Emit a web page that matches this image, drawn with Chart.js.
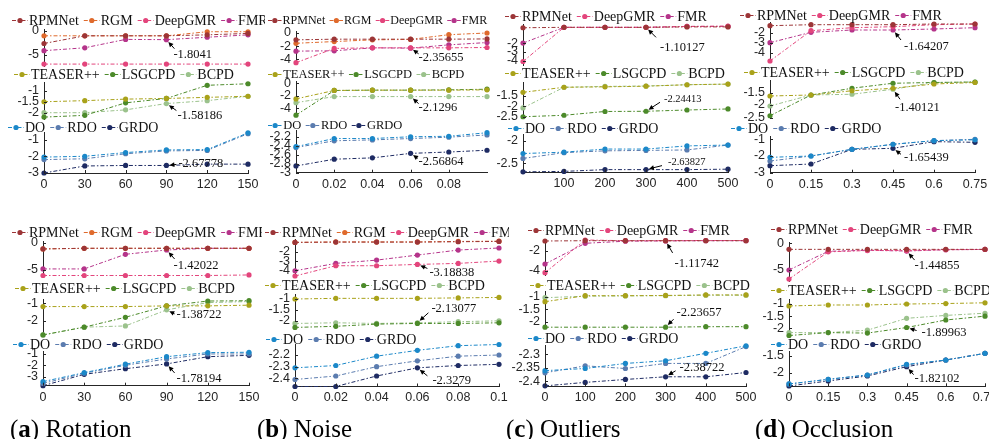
<!DOCTYPE html>
<html><head><meta charset="utf-8">
<script src="https://cdn.jsdelivr.net/npm/chart.js@4.4.0/dist/chart.umd.min.js"></script>
<style>
html,body{margin:0;padding:0;background:#fff;}
#wrap{position:relative;width:989px;height:439px;overflow:hidden;background:#fff;}
canvas{position:absolute;}
.cap{position:absolute;top:416px;font-family:"Liberation Serif",serif;font-size:25px;line-height:25px;color:#000;white-space:nowrap;}
.cap b{font-weight:bold;}
</style></head><body><div id="wrap"></div>
<script>
// ---------- categories (x values) ----------
const rotX   = [0, 30, 60, 90, 120, 150];
const noiseX = [0, 0.02, 0.04, 0.06, 0.08, 0.1];
const outX   = [0, 100, 200, 300, 400, 500];
const occX   = [0, 0.15, 0.3, 0.45, 0.6, 0.75];

// ---------- series names ----------
const learn4 = ['RPMNet', 'RGM', 'DeepGMR', 'FMR'];
const learn3 = ['RPMNet', 'DeepGMR', 'FMR'];
const classic = ['TEASER++', 'LSGCPD', 'BCPD'];
const ours = ['DO', 'RDO', 'GRDO'];

// ---------- tick labels ----------
const rotXTicks = [0, 30, 60, 90, 120, 150];
const rotXLabels = ['0', '30', '60', '90', '120', '150'];
const noiseXTicks1 = [0, 0.02, 0.04, 0.06, 0.08];
const noiseXLabels1 = ['0', '0.02', '0.04', '0.06', '0.08'];
const noiseXTicks2 = [0, 0.02, 0.04, 0.06, 0.08, 0.1];
const noiseXLabels2 = ['0', '0.02', '0.04', '0.06', '0.08', '0.1'];
const outXTicks1 = [100, 200, 300, 400, 500];
const outXLabels1 = ['100', '200', '300', '400', '500'];
const outXTicks2 = [0, 100, 200, 300, 400, 500];
const outXLabels2 = ['0', '100', '200', '300', '400', '500'];
const occXTicks = [0, 0.15, 0.3, 0.45, 0.6, 0.75];
const occXLabels = ['0', '0.15', '0.3', '0.45', '0.6', '0.75'];

const yt_a1 = [[0, -5], [-1, -1.5, -2], [-1, -2, -3]];
const yt_b1 = [[0, -2, -4], [0, -2, -4], [-2.2, -2.4, -2.6, -2.8, -3]];
const yt_c1 = [[-2, -3, -4], [-1.5, -2, -2.5], [-2, -2.5]];
const yt_d1 = [[-2, -3, -4], [-1.5, -2, -2.5], [-1, -2, -3]];
const yt_a2 = [[0, -5], [-1, -2], [-1, -2, -3]];
const yt_b2 = [[-2, -3, -4], [-1, -1.5, -2], [-2.2, -2.3, -2.4]];
const yt_c2 = [[-2, -4], [-1, -1.5, -2], [-2.3, -2.35, -2.4]];
const yt_d2 = [[0, -5], [-1, -1.5, -2], [-1.5, -2]];

// ---------- annotation labels ----------
const ann_a1 = ['-1.8041', '-1.58186', '-2.67778'];
const ann_b1 = ['-2.35655', '-2.1296', '-2.56864'];
const ann_c1 = ['-1.10127', '-2.24413', '-2.63827'];
const ann_d1 = ['-1.64207', '-1.40121', '-1.65439'];
const ann_a2 = ['-1.42022', '-1.38722', '-1.78194'];
const ann_b2 = ['-3.18838', '-2.13077', '-2.3279'];
const ann_c2 = ['-1.11742', '-2.23657', '-2.38722'];
const ann_d2 = ['-1.44855', '-1.89963', '-1.82102'];

// ---------- (a) Rotation, top ----------
const a1_RPMNet  = [-2.6, -1.0, -1.0, -1.0, -0.8, -0.5];
const a1_RGM     = [-1.0, -1.0, -1.0, -1.0, -0.15, -0.15];
const a1_DeepGMR = [-6.9, -6.9, -6.9, -6.9, -6.9, -6.9];
const a1_FMR     = [-4.1, -3.5, -1.75, -1.8041, -1.3, -0.8];
const a1_TEASER  = [-1.5, -1.45, -1.38, -1.35, -1.3, -1.25];
const a1_LSGCPD  = [-2.2, -2.12, -1.55, -1.35, -0.75, -0.68];
const a1_BCPD    = [-2.0, -2.0, -1.87, -1.58186, -1.45, -1.25];
const a1_DO      = [-2.05, -2.0, -1.78, -1.62, -1.6, -0.6];
const a1_RDO     = [-2.2, -2.15, -1.85, -1.68, -1.65, -0.65];
const a1_GRDO    = [-3.0, -2.58, -2.55, -2.55, -2.47, -2.47];
// ---------- (b) Noise, top ----------
const b1_RPMNet  = [-1.04, -0.94, -0.94, -0.94, -0.94, -0.9];
const b1_RGM     = [-1.56, -1.3, -1.04, -0.98, -0.26, 0.0];
const b1_DeepGMR = [-4.5, -2.34, -2.25, -2.25, -2.25, -2.2];
const b1_FMR     = [-2.75, -2.7, -2.25, -2.3, -1.8, -1.45];
const b1_TEASER  = [-2.5, -1.15, -1.1, -1.1, -1.1, -1.05];
const b1_LSGCPD  = [-5.1, -1.15, -1.1, -1.1, -1.05, -0.95];
const b1_BCPD    = [-3.1, -2.13, -2.13, -2.13, -2.13, -2.13];
const b1_DO      = [-2.42, -2.24, -2.24, -2.2, -2.19, -2.11];
const b1_RDO     = [-2.44, -2.29, -2.27, -2.24, -2.21, -2.16];
const b1_GRDO    = [-2.85, -2.7, -2.67, -2.57, -2.54, -2.5];
// ---------- (c) Outliers, top ----------
const c1_RPMNet  = [-0.25, -0.2, -0.2, -0.2, -0.15, -0.15];
const c1_DeepGMR = [-4.1, -0.2, -0.2, -0.2, -0.1, -0.05];
const c1_FMR     = [-2.0, -0.2, -0.2, -0.2, -0.1, -0.1];
const c1_TEASER  = [-1.34, -1.1, -1.08, -1.05, -0.98, -0.95];
const c1_LSGCPD  = [-2.5, -2.43, -2.25, -2.24, -2.18, -2.13];
const c1_BCPD    = [-2.08, -1.1, -1.06, -1.04, -0.98, -0.95];
const c1_DO      = [-2.28, -2.25, -2.18, -2.18, -2.11, -2.09];
const c1_RDO     = [-2.39, -2.26, -2.22, -2.21, -2.2, -2.09];
const c1_GRDO    = [-2.69, -2.68, -2.64, -2.64, -2.64, -2.63];
// ---------- (d) Occlusion, top ----------
const d1_RPMNet  = [-1.3, -1.2, -1.2, -1.2, -1.13, -1.13];
const d1_DeepGMR = [-4.83, -1.8, -1.5, -1.4, -1.2, -1.13];
const d1_FMR     = [-3.0, -1.96, -1.73, -1.73, -1.63, -1.5];
const d1_TEASER  = [-1.64, -1.6, -1.43, -1.33, -1.16, -1.1];
const d1_LSGCPD  = [-2.43, -1.6, -1.33, -1.13, -1.1, -1.08];
const d1_BCPD    = [-2.04, -1.6, -1.57, -1.37, -1.1, -1.08];
const d1_DO      = [-2.08, -2.0, -1.6, -1.3, -1.08, -1.03];
const d1_RDO     = [-2.3, -2.0, -1.6, -1.3, -1.08, -1.0];
const d1_GRDO    = [-2.58, -2.48, -1.6, -1.54, -1.14, -1.18];
// ---------- (a) Rotation, bottom ----------
const a2_RPMNet  = [-1.15, -1.03, -1.03, -1.03, -1.03, -1.03];
const a2_RGM     = [-1.15, -1.03, -1.03, -1.03, -1.03, -1.03];
const a2_DeepGMR = [-6.0, -6.0, -6.0, -6.0, -6.0, -5.9];
const a2_FMR     = [-4.8, -4.8, -2.13, -1.34, -1.03, -1.03];
const a2_TEASER  = [-1.19, -1.19, -1.19, -1.15, -1.15, -1.11];
const a2_LSGCPD  = [-2.83, -2.38, -1.81, -1.15, -0.87, -0.85];
const a2_BCPD    = [-2.83, -2.38, -2.31, -1.38, -0.96, -0.9];
const a2_DO      = [-3.44, -2.65, -1.9, -1.24, -0.88, -0.85];
const a2_RDO     = [-3.6, -2.7, -2.0, -1.44, -1.0, -1.0];
const a2_GRDO    = [-3.8, -2.8, -2.3, -1.88, -1.24, -1.12];
// ---------- (b) Noise, bottom ----------
const b2_RPMNet  = [-1.0, -0.97, -0.97, -0.97, -0.93, -0.9];
const b2_RGM     = [-1.0, -0.95, -0.95, -0.95, -0.9, -0.87];
const b2_DeepGMR = [-4.6, -3.5, -3.5, -3.36, -3.25, -3.0];
const b2_FMR     = [-4.04, -3.25, -2.9, -2.36, -1.82, -1.6];
const b2_TEASER  = [-1.0, -0.97, -0.97, -0.97, -0.95, -0.93];
const b2_LSGCPD  = [-2.29, -2.24, -2.14, -2.11, -2.11, -2.08];
const b2_BCPD    = [-2.11, -2.08, -2.11, -2.08, -2.03, -1.99];
const b2_DO      = [-2.31, -2.29, -2.21, -2.16, -2.12, -2.11];
const b2_RDO     = [-2.41, -2.38, -2.3, -2.25, -2.21, -2.2];
const b2_GRDO    = [-2.47, -2.47, -2.38, -2.31, -2.29, -2.28];
// ---------- (c) Outliers, bottom ----------
const c2_RPMNet  = [-1.03, -1.0, -1.0, -1.0, -1.0, -1.0];
const c2_DeepGMR = [-4.2, -0.93, -1.0, -1.0, -0.98, -0.98];
const c2_FMR     = [-3.33, -1.26, -1.05, -1.02, -1.0, -1.0];
const c2_TEASER  = [-1.2, -0.96, -0.96, -0.95, -0.93, -0.93];
const c2_LSGCPD  = [-2.22, -2.22, -2.22, -2.22, -2.2, -2.2];
const c2_BCPD    = [-1.04, -0.98, -0.97, -0.96, -0.94, -0.94];
const c2_DO      = [-2.361, -2.353, -2.334, -2.324, -2.296, -2.268];
const c2_RDO     = [-2.369, -2.343, -2.353, -2.334, -2.334, -2.271];
const c2_GRDO    = [-2.418, -2.405, -2.394, -2.384, -2.384, -2.368];
// ---------- (d) Occlusion, bottom ----------
const d2_RPMNet  = [-1.13, -1.13, -1.13, -1.13, -1.13, -1.13];
const d2_DeepGMR = [-6.7, -1.6, -1.35, -1.35, -1.2, -1.15];
const d2_FMR     = [-5.0, -1.5, -1.3, -1.45, -1.2, -1.15];
const d2_TEASER  = [-1.08, -1.04, -1.04, -1.0, -0.98, -0.95];
const d2_LSGCPD  = [-2.3, -2.18, -2.2, -1.97, -1.66, -1.5];
const d2_BCPD    = [-2.18, -2.18, -2.08, -1.59, -1.47, -1.38];
const d2_DO      = [-2.34, -2.2, -2.07, -1.75, -1.62, -1.42];
const d2_RDO     = [-2.34, -2.2, -2.07, -1.77, -1.62, -1.42];
const d2_GRDO    = [-2.4, -2.25, -2.1, -1.82, -1.62, -1.42];

// ---------- styling ----------
const COLORS = {
  'RPMNet': '#9c3537', 'RGM': '#df6a2c', 'DeepGMR': '#e3457c', 'FMR': '#b5348a',
  'TEASER++': '#a9a21a', 'LSGCPD': '#4c8a2a', 'BCPD': '#9bc28c',
  'DO': '#1b88c9', 'RDO': '#5b7caf', 'GRDO': '#1e2b63'
};
const DASH = [4, 2, 1.5, 2];
const TICK_FONT = { family: '"Liberation Sans", Arial, sans-serif', size: 12.5 };
const SERIF = '"Liberation Serif", "Times New Roman", serif';

// layout of each sub-plot (page pixels)
const subs = [
  // row 1 (a)
  {L:0,R:265,ax:44,xe:248,ly:20,lx:12,top:29.1,bot:66,ymin:-7.3,ymax:0.4,yt:yt_a1[0],xs:rotX,xmax:150,names:learn4,ser:[a1_RPMNet,a1_RGM,a1_DeepGMR,a1_FMR],ann:[3,3,ann_a1[0],7,15,8,9]},
  {L:0,R:265,ax:44,xe:248,ly:74,lx:14,top:82,bot:119.3,ymin:-2.3,ymax:-0.6,yt:yt_a1[1],xs:rotX,xmax:150,names:classic,ser:[a1_TEASER,a1_LSGCPD,a1_BCPD],ann:[2,3,ann_a1[1],11,12,10,7]},
  {L:0,R:265,ax:44,xe:248,ly:127,lx:8,top:132,bot:173,ymin:-3.0,ymax:-0.55,yt:yt_a1[2],xs:rotX,xmax:150,names:ours,ser:[a1_DO,a1_RDO,a1_GRDO],xt:rotXTicks,xl:rotXLabels,ann:[2,3,ann_a1[2],12,-2,10,-1]},
  // row 1 (b)
  {L:265,R:497,ax:296,xe:487,ly:20,lx:268,lf:12,top:31,bot:64,ymin:-4.7,ymax:0.3,yt:yt_b1[0],xs:noiseX,xmax:0.1,names:learn4,ser:[b1_RPMNet,b1_RGM,b1_DeepGMR,b1_FMR],ann:[2,3,ann_b1[0],8,10,8,6]},
  {L:265,R:497,ax:296,xe:487,ly:74,lx:268,lf:12.5,top:81.4,bot:116.4,ymin:-5.3,ymax:0.3,yt:yt_b1[1],xs:noiseX,xmax:0.1,names:classic,ser:[b1_TEASER,b1_LSGCPD,b1_BCPD],ann:[2,3,ann_b1[1],8,11,8,7]},
  {L:265,R:497,ax:296,xe:487,ly:125,lx:268,lf:12.5,top:130.9,bot:172.7,ymin:-3.0,ymax:-2.07,yt:yt_b1[2],xs:noiseX,xmax:0.1,names:ours,ser:[b1_DO,b1_RDO,b1_GRDO],xt:noiseXTicks1,xl:noiseXLabels1,ann:[2,3,ann_b1[2],8,8,7,5]},
  // row 1 (c)
  {L:497,R:740,ax:523,xe:728,ly:16,lx:505,top:24.7,bot:65,ymin:-4.5,ymax:0.1,yt:yt_c1[0],xs:outX,xmax:500,names:learn3,ser:[c1_RPMNet,c1_DeepGMR,c1_FMR],ann:[2,3,ann_c1[0],14,20,10,10]},
  {L:497,R:740,ax:523,xe:728,ly:73,lx:505,top:82,bot:117.8,ymin:-2.55,ymax:-0.85,yt:yt_c1[1],xs:outX,xmax:500,names:classic,ser:[c1_TEASER,c1_LSGCPD,c1_BCPD],ann:[1,3,ann_c1[1],18,-12,14,-9,10.5]},
  {L:497,R:740,ax:523,xe:728,ly:128,lx:508,top:134.3,bot:172.3,ymin:-2.7,ymax:-1.85,yt:yt_c1[2],xs:outX,xmax:500,names:ours,ser:[c1_DO,c1_RDO,c1_GRDO],xt:outXTicks1,xl:outXLabels1,ann:[2,3,ann_c1[2],22,-7,16,-4,10.5]},
  // row 1 (d)
  {L:728,R:989,ax:770,xe:975,ly:15,lx:740,top:22.7,bot:62.7,ymin:-5.0,ymax:-1.0,yt:yt_d1[0],xs:occX,xmax:0.75,names:learn3,ser:[d1_RPMNet,d1_DeepGMR,d1_FMR],ann:[2,3,ann_d1[0],11,17,8,10]},
  {L:728,R:989,ax:770,xe:975,ly:72,lx:744,top:80,bot:117.5,ymin:-2.5,ymax:-1.0,yt:yt_d1[1],xs:occX,xmax:0.75,names:classic,ser:[d1_TEASER,d1_LSGCPD,d1_BCPD],ann:[2,3,ann_d1[1],2,18,7,10]},
  {L:728,R:989,ax:770,xe:975,ly:128,lx:731,top:136.8,bot:172.7,ymin:-3.0,ymax:-0.85,yt:yt_d1[2],xs:occX,xmax:0.75,names:ours,ser:[d1_DO,d1_RDO,d1_GRDO],xt:occXTicks,xl:occXLabels,ann:[2,3,ann_d1[2],11,9,8,6]},
  // row 2 (a)
  {L:0,R:262,ax:43,xe:249,ly:232,lx:12,top:241,bot:276.6,ymin:-6.2,ymax:0.3,yt:yt_a2[0],xs:rotX,xmax:150,names:learn4,ser:[a2_RPMNet,a2_RGM,a2_DeepGMR,a2_FMR],ann:[3,3,ann_a2[0],7,16,8,9]},
  {L:0,R:262,ax:43,xe:249,ly:288,lx:15,top:299.3,bot:336.5,ymin:-2.92,ymax:-0.77,yt:yt_a2[1],xs:rotX,xmax:150,names:classic,ser:[a2_TEASER,a2_LSGCPD,a2_BCPD],ann:[2,3,ann_a2[1],10,5,8,4]},
  {L:0,R:262,ax:43,xe:249,ly:344,lx:13,top:351.7,bot:385.7,ymin:-3.8,ymax:-0.8,yt:yt_a2[2],xs:rotX,xmax:150,names:ours,ser:[a2_DO,a2_RDO,a2_GRDO],xt:rotXTicks,xl:rotXLabels,ann:[2,3,ann_a2[2],10,15,8,9]},
  // row 2 (b)
  {L:262,R:509,ax:295,xe:499,ly:232,lx:265,top:239.3,bot:277.4,ymin:-4.75,ymax:-0.67,yt:yt_b2[0],xs:noiseX,xmax:0.1,names:learn4,ser:[b2_RPMNet,b2_RGM,b2_DeepGMR,b2_FMR],ann:[2,3,ann_b2[0],12,8,10,4]},
  {L:262,R:509,ax:295,xe:499,ly:285,lx:265,top:294.6,bot:328.3,ymin:-2.33,ymax:-0.8,yt:yt_b2[1],xs:noiseX,xmax:0.1,names:classic,ser:[b2_TEASER,b2_LSGCPD,b2_BCPD],ann:[2,3,ann_b2[1],14,-14,11,-10]},
  {L:262,R:509,ax:295,xe:499,ly:339,lx:266,top:344.5,bot:386.5,ymin:-2.47,ymax:-2.11,yt:yt_b2[2],xs:noiseX,xmax:0.1,names:ours,ser:[b2_DO,b2_RDO,b2_GRDO],xt:noiseXTicks2,xl:noiseXLabels2,ann:[2,3,ann_b2[2],15,13,10,8]},
  // row 2 (c)
  {L:507,R:770,ax:545,xe:746,ly:230,lx:528,top:239.3,bot:275,ymin:-4.43,ymax:-0.86,yt:yt_c2[0],xs:outX,xmax:500,names:learn3,ser:[c2_RPMNet,c2_DeepGMR,c2_FMR],ann:[2,3,ann_c2[0],9,23,7,12]},
  {L:507,R:770,ax:545,xe:746,ly:285,lx:530,top:291.7,bot:328.7,ymin:-2.28,ymax:-0.8,yt:yt_c2[1],xs:outX,xmax:500,names:classic,ser:[c2_TEASER,c2_LSGCPD,c2_BCPD],ann:[1,3,ann_c2[1],11,-14,8,-8]},
  {L:507,R:770,ax:545,xe:746,ly:338,lx:528,top:345,bot:386.4,ymin:-2.42,ymax:-2.265,yt:yt_c2[2],xs:outX,xmax:500,names:ours,ser:[c2_DO,c2_RDO,c2_GRDO],xt:outXTicks2,xl:outXLabels2,ann:[2,3,ann_c2[2],14,-9,10,-6]},
  // row 2 (d)
  {L:740,R:989,ax:789,xe:987,ly:229,lx:771,top:242.8,bot:281.7,ymin:-7.2,ymax:0.1,yt:yt_d2[0],xs:occX,xmax:0.75,names:learn3,ser:[d2_RPMNet,d2_DeepGMR,d2_FMR],ann:[2,3,ann_d2[0],8,15,8,9]},
  {L:740,R:989,ax:789,xe:987,ly:290,lx:771,top:299.9,bot:336,ymin:-2.32,ymax:-0.83,yt:yt_d2[1],xs:occX,xmax:0.75,names:classic,ser:[d2_TEASER,d2_LSGCPD,d2_BCPD],ann:[1,3,ann_d2[1],15,5,10,3]},
  {L:740,R:989,ax:789,xe:987,ly:344,lx:771,top:351.7,bot:386.3,ymin:-2.41,ymax:-1.37,yt:yt_d2[2],xs:occX,xmax:0.75,names:ours,ser:[d2_DO,d2_RDO,d2_GRDO],xt:occXTicks,xl:occXLabels,ann:[2,3,ann_d2[2],8,12,7,8]}
];

const deco = {
  id: 'deco',
  afterDraw(chart, args, o) {
    const s = o.spec, ctx = chart.ctx, ca = chart.chartArea;
    const ys = chart.scales.y, xs = chart.scales.x;
    ctx.save();
    // inward tick marks
    ctx.strokeStyle = '#262626'; ctx.lineWidth = 1; ctx.setLineDash([]);
    s.yt.forEach(v => {
      const py = Math.round(ys.getPixelForValue(v)) + 0.5;
      ctx.beginPath(); ctx.moveTo(ca.left, py); ctx.lineTo(ca.left + 3, py); ctx.stroke();
    });
    if (s.xt) {
      s.xt.forEach(v => {
        const px = Math.round(xs.getPixelForValue(v)) + 0.5;
        ctx.beginPath(); ctx.moveTo(px, ca.bottom); ctx.lineTo(px, ca.bottom - 3); ctx.stroke();
      });
    }
    // legend
    const fs = s.lf || 14;
    const k = fs / 14;
    ctx.font = fs + 'px ' + SERIF; ctx.textBaseline = 'middle'; ctx.textAlign = 'left';
    let x = s.lx - s.L; const y = s.ly - s.T;
    chart.data.datasets.forEach(ds => {
      ctx.strokeStyle = ds.borderColor; ctx.fillStyle = ds.borderColor; ctx.lineWidth = 1;
      ctx.setLineDash(DASH);
      ctx.beginPath(); ctx.moveTo(x, y + 0.5); ctx.lineTo(x + 16 * k, y + 0.5); ctx.stroke();
      ctx.setLineDash([]);
      ctx.beginPath(); ctx.arc(x + 8 * k, y + 0.5, 2.6, 0, Math.PI * 2); ctx.fill();
      ctx.fillStyle = '#111';
      ctx.fillText(ds.label, x + 17 * k, y + 1);
      x += 17 * k + ctx.measureText(ds.label).width + 5 * k;
    });
    // annotation with arrow
    const a = s.ann;
    const el = chart.getDatasetMeta(a[0]).data[a[1]];
    const px = el.x, py = el.y;
    const tx = px + a[5], ty = py + a[6];
    const dx = tx - px, dy = ty - py, len = Math.hypot(dx, dy) || 1;
    const ux = dx / len, uy = dy / len;
    const hx = px + ux * 3, hy = py + uy * 3;
    const hl = 5, hw = 2.4;
    ctx.strokeStyle = '#000'; ctx.fillStyle = '#000'; ctx.lineWidth = 1;
    ctx.beginPath(); ctx.moveTo(tx, ty); ctx.lineTo(hx + ux * hl * 0.8, hy + uy * hl * 0.8); ctx.stroke();
    ctx.beginPath();
    ctx.moveTo(hx, hy);
    ctx.lineTo(hx + ux * hl - uy * hw, hy + uy * hl + ux * hw);
    ctx.lineTo(hx + ux * hl + uy * hw, hy + uy * hl - ux * hw);
    ctx.closePath(); ctx.fill();
    ctx.font = (a[7] || 12.5) + 'px ' + SERIF; ctx.fillStyle = '#111';
    ctx.fillText(a[2], px + a[3], py + a[4]);
    ctx.restore();
  }
};

const wrap = document.getElementById('wrap');
subs.forEach(s => {
  const isBottom = !!s.xt;
  s.T = Math.floor(s.ly - 11);
  const W = s.R - s.L;
  const xh = isBottom ? 20 : 0;
  const H = Math.ceil(s.bot - s.T + (isBottom ? 23 : 6));
  const cv = document.createElement('canvas');
  cv.width = W; cv.height = H;
  cv.style.left = s.L + 'px'; cv.style.top = s.T + 'px';
  wrap.appendChild(cv);
  const datasets = s.names.map((n, k) => ({
    label: n,
    data: s.xs.map((xv, j) => ({ x: xv, y: s.ser[k][j] })),
    borderColor: COLORS[n], backgroundColor: COLORS[n],
    pointBackgroundColor: COLORS[n], pointBorderColor: COLORS[n],
    pointRadius: 2.6, pointBorderWidth: 0, borderWidth: 1,
    borderDash: DASH, tension: 0, clip: false
  }));
  new Chart(cv, {
    type: 'line',
    data: { datasets },
    plugins: [deco],
    options: {
      responsive: false, animation: false, events: [], devicePixelRatio: 1,
      layout: { padding: { left: 0, top: s.top - s.T, right: W - (s.xe - s.L), bottom: H - (s.bot - s.T) - xh } },
      plugins: { legend: { display: false }, tooltip: { enabled: false }, deco: { spec: s } },
      scales: {
        x: {
          type: 'linear', min: s.xs[0], max: s.xmax, display: isBottom,
          grid: { display: false, drawTicks: false },
          border: { display: true, color: '#262626', width: 1 },
          ticks: { font: TICK_FONT, color: '#262626', padding: 4, autoSkip: false, maxRotation: 0,
                   callback: (v, i) => (s.xl ? s.xl[i] : '') },
          afterBuildTicks: sc => { sc.ticks = (s.xt || []).map(v => ({ value: v })); },
          afterFit: sc => { sc.height = xh; sc.paddingLeft = 0; sc.paddingRight = 0; }
        },
        y: {
          type: 'linear', min: s.ymin, max: s.ymax,
          grid: { display: false, drawTicks: false },
          border: { display: true, color: '#262626', width: 1 },
          ticks: { font: TICK_FONT, color: '#262626', padding: 5, autoSkip: false,
                   callback: v => String(v) },
          afterBuildTicks: sc => { sc.ticks = s.yt.map(v => ({ value: v })); },
          afterFit: sc => { sc.width = s.ax - s.L; sc.paddingTop = 0; sc.paddingBottom = 0; }
        }
      }
    }
  });
});

// captions
const caps = [[10, 'a', 'Rotation'], [257, 'b', 'Noise'], [506, 'c', 'Outliers'], [755, 'd', 'Occlusion']];
caps.forEach(c => {
  const d = document.createElement('div');
  d.className = 'cap'; d.style.left = c[0] + 'px';
  d.innerHTML = '(<b>' + c[1] + '</b>) ' + c[2];
  wrap.appendChild(d);
});
</script>
</body></html>
